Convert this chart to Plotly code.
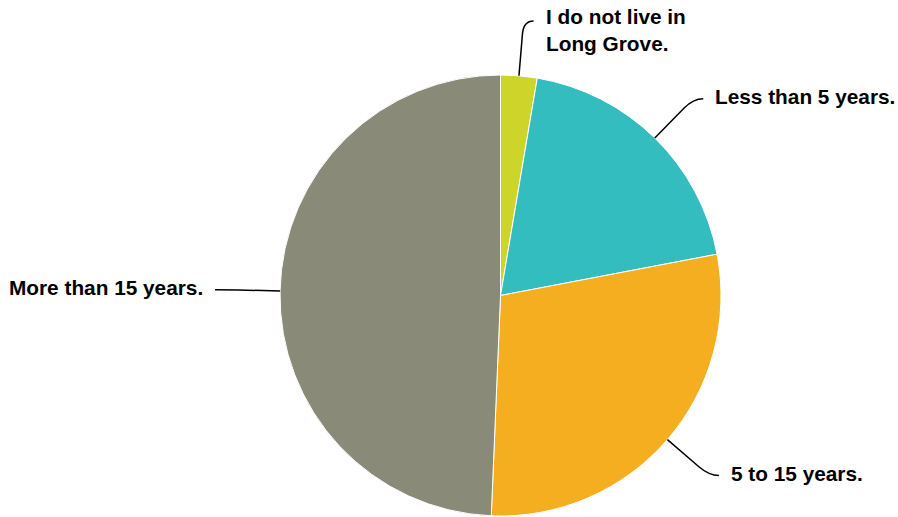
import numpy as np
import plotly.graph_objects as go

labels = ["I do not live in<br>Long Grove.", "Less than 5 years.", "5 to 15 years.", "More than 15 years."]
values = [4, 29, 43, 74]
colors = ["#CDD52B", "#33BDBF", "#F5AE1F", "#8A8A78"]

W, H = 898, 517
ml, mr, mt, mb = 280, 177, 75, 1
pw, ph = W - ml - mr, H - mt - mb
cx, cy = ml + pw / 2, mt + ph / 2
R = min(pw, ph) / 2


def to_paper(px, py):
    return (px - ml) / pw, 1 - (py - mt) / ph


fig = go.Figure(go.Pie(
    labels=labels, values=values, sort=False, direction="clockwise", rotation=0,
    marker=dict(colors=colors, line=dict(color="white", width=1)),
    textinfo="none", hoverinfo="label+percent", showlegend=False,
))

total = sum(values)
cum = np.cumsum([0] + values)
shapes, annotations = [], []
for i, lab in enumerate(labels):
    frac = (cum[i] + cum[i + 1]) / 2 / total
    th = 2 * np.pi * frac
    s, c = np.sin(th), -np.cos(th)
    p0 = (cx + R * s, cy + R * c)
    p1 = (cx + (R + 42) * s, cy + (R + 42) * c)
    p2 = (cx + (R + 55) * s, cy + (R + 55) * c)
    side = 1 if s >= 0 else -1
    p3 = (p2[0] + side * 10, p2[1])
    pts = [to_paper(*p) for p in (p0, p1, p2, p3)]
    path = "M {},{} L {},{} Q {},{} {},{}".format(*[v for p in pts for v in p])
    shapes.append(dict(type="path", path=path, xref="paper", yref="paper",
                       line=dict(color="black", width=1.5)))
    tx, ty = to_paper(p3[0] + side * 10, p3[1])
    yshift = -9 if "<br>" in lab else 2
    annotations.append(dict(
        x=tx, y=ty, xref="paper", yref="paper", text=lab, showarrow=False,
        xanchor="left" if side > 0 else "right", yanchor="middle", align="left",
        yshift=yshift,
        font=dict(family="Liberation Sans, Arial, sans-serif", size=20.8, color="black", weight="bold"),
    ))

fig.update_layout(
    width=W, height=H, margin=dict(l=ml, r=mr, t=mt, b=mb),
    paper_bgcolor="white", plot_bgcolor="white",
    shapes=shapes, annotations=annotations,
)
fig.write_html("out.html", config={"displayModeBar": False},
               post_script="document.body.style.margin='0';document.body.style.overflow='hidden';")
